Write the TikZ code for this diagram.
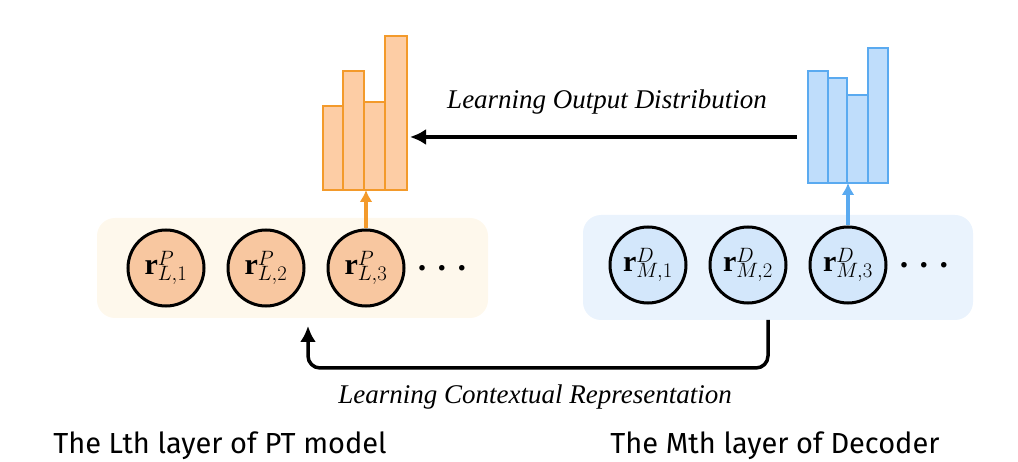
\documentclass[tikz,border=0pt]{standalone}
\usepackage{fontspec}
\setmainfont{Liberation Serif}
\newfontfamily\capf{Fira Sans}
\usetikzlibrary{arrows.meta}
\definecolor{oline}{HTML}{F39A2B}
\definecolor{ofill}{HTML}{FDCDA5}
\definecolor{cofill}{HTML}{F8C7A0}
\definecolor{obox}{HTML}{FEF8EC}
\definecolor{bline}{HTML}{5AAAF0}
\definecolor{bfill}{HTML}{BFDDFB}
\definecolor{cbfill}{HTML}{D3E7FB}
\definecolor{bbox}{HTML}{EAF3FD}
\begin{document}
\begin{tikzpicture}[x=1pt,y=-1pt,
  tok/.style={circle,draw=black,line width=3pt,minimum size=76pt,inner sep=0pt,font=\fontsize{30}{30}\selectfont},
  obar/.style={fill=ofill,draw=oline,line width=2pt},
  bbar/.style={fill=bfill,draw=bline,line width=2pt},
  lbl/.style={font=\fontsize{27}{30}\selectfont\itshape},
  captxt/.style={font=\capf\fontsize{29}{32}\selectfont},
  dots/.style={font=\fontsize{34}{34}\selectfont\bfseries}]
\useasboundingbox (0,0) rectangle (1018,462);
\fill[obox,rounded corners=18pt] (97,218) rectangle (488,318);
\fill[bbox,rounded corners=18pt] (583,215) rectangle (973,320);
\node[tok,fill=cofill] (p1) at (166,268) {$\mathbf{r}^{P}_{L,1}$};
\node[tok,fill=cofill] (p2) at (266,268) {$\mathbf{r}^{P}_{L,2}$};
\node[tok,fill=cofill] (p3) at (366,268) {$\mathbf{r}^{P}_{L,3}$};
\node[dots] (pd) at (442,268) {. . .};
\node[tok,fill=cbfill] (d1) at (648,265) {$\mathbf{r}^{D}_{M,1}$};
\node[tok,fill=cbfill] (d2) at (748,265) {$\mathbf{r}^{D}_{M,2}$};
\node[tok,fill=cbfill] (d3) at (848,265) {$\mathbf{r}^{D}_{M,3}$};
\node[dots] (dd) at (924,265) {. . .};
% orange histogram
\draw[obar] (323,190) rectangle (343,106);
\draw[obar] (343,190) rectangle (364,71);
\draw[obar] (364,190) rectangle (385,102);
\draw[obar] (385,190) rectangle (407,36);
\coordinate (ph) at (366,190);
\coordinate (pl) at (410,137);
% blue histogram
\draw[bbar] (808,183) rectangle (828,71);
\draw[bbar] (828,183) rectangle (847,78);
\draw[bbar] (847,183) rectangle (868,95);
\draw[bbar] (868,183) rectangle (888,48);
\coordinate (dh) at (848,183);
\coordinate (dl) at (797,137);
\draw[oline,line width=3.5pt,-{Latex[length=12pt,width=13pt]}] (p3) -- (ph);
\draw[bline,line width=3.5pt,-{Latex[length=12pt,width=13pt]}] (d3) -- (dh);
\draw[line width=3.5pt,-{Latex[length=16pt,width=16pt]}] (dl) -- (pl);
\node[lbl] (t1) at (607,102) {Learning Output Distribution};
\coordinate (b1) at (768,368);
\coordinate (b2) at (308,368);
\draw[line width=3.5pt,rounded corners=12pt,-{Latex[length=16pt,width=16pt]}] (768,320) -- (b1) -- (b2) -- (308,326);
\node[lbl] (t2) at (535,397) {Learning Contextual Representation};
\node[captxt] (c1) at (220,446) {The Lth layer of PT model};
\node[captxt] (c2) at (775,446) {The Mth layer of Decoder};
\end{tikzpicture}
\end{document}
